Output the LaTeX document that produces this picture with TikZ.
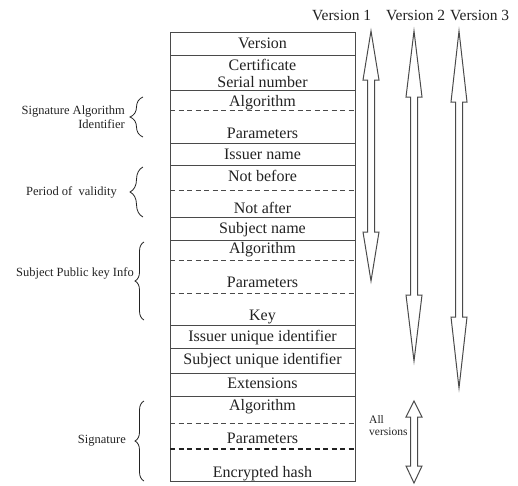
\documentclass[tikz,border=0pt]{standalone}
\usepackage{fontspec}
\setmainfont{Liberation Serif}
\usetikzlibrary{calc,decorations.pathreplacing}
\definecolor{Frame}{HTML}{4A4A4A}
\definecolor{Ink}{HTML}{222222}

% hollow double-headed arrow between two named points
\newcommand{\fatarrow}[4]{%
  \draw[fatarr] (#1) -- ($(#1)+(-8,#3)$) -- ($(#1)+(-3.5,#3)$) -- ($(#2)+(-3.5,-#4)$)
    -- ($(#2)+(-8,-#4)$) -- (#2) -- ($(#2)+(8,-#4)$) -- ($(#2)+(3.5,-#4)$)
    -- ($(#1)+(3.5,#3)$) -- ($(#1)+(8,#3)$) -- cycle;}

\begin{document}
\begin{tikzpicture}[x=1pt,y=-1pt,
  field/.style={rectangle,draw=Frame,line width=1pt,minimum width=185pt,inner sep=0pt},
  txt/.style={inner sep=0pt,anchor=base,text=Ink,font=\fontsize{16}{17}\selectfont},
  side/.style={inner sep=0pt,text=Ink,align=right,font=\fontsize{12.5}{14}\selectfont},
  sep/.style={draw=Frame,line width=0.9pt,dash pattern=on 5pt off 3.5pt},
  curly/.style={decorate,decoration={brace,amplitude=#1,mirror},draw=Ink,line width=0.8pt},
  curly/.default=10pt,
  fatarr/.style={draw=Frame,fill=white,line width=1pt,line join=miter},
  verlabel/.style={inner sep=0pt,anchor=base west,text=Ink,font=\fontsize{15.5}{17}\selectfont}]
  \useasboundingbox (0,0) rectangle (518,485);

  % certificate fields
  \node[field,minimum height=23pt] (ver) at (262.5,43.5) {};
  \node[field,minimum height=35pt] (cert) at (262.5,72.5) {};
  \node[field,minimum height=53pt] (sigalg) at (262.5,116.5) {};
  \node[field,minimum height=22pt] (issuer) at (262.5,154) {};
  \node[field,minimum height=52pt] (valid) at (262.5,191) {};
  \node[field,minimum height=23pt] (subj) at (262.5,228.5) {};
  \node[field,minimum height=85pt] (spki) at (262.5,282.5) {};
  \node[field,minimum height=23pt] (iuid) at (262.5,336.5) {};
  \node[field,minimum height=25pt] (suid) at (262.5,360.5) {};
  \node[field,minimum height=23pt] (ext) at (262.5,384.5) {};
  \node[field,minimum height=85pt] (sig) at (262.5,438.5) {};

  \node[txt] (vertxt) at (262.5,48) {Version};
  \node[txt,anchor=center,align=center] (certtxt) at (262.5,73) {Certificate\\Serial number};
  \node[txt] (sigalgA) at (262.5,106) {Algorithm};
  \node[txt] (sigalgP) at (262.5,138) {Parameters};
  \node[txt] (issuertxt) at (262.5,159) {Issuer name};
  \node[txt] (nbefore) at (262.5,181) {Not before};
  \node[txt] (nafter) at (262.5,213) {Not after};
  \node[txt] (subjtxt) at (262.5,233) {Subject name};
  \node[txt] (spkiA) at (262.5,253) {Algorithm};
  \node[txt] (spkiP) at (262.5,287) {Parameters};
  \node[txt] (spkiK) at (262.5,320) {Key};
  \node[txt] (iuidtxt) at (262.5,341) {Issuer unique identifier};
  \node[txt] (suidtxt) at (262.5,364) {Subject unique identifier};
  \node[txt] (exttxt) at (262.5,388) {Extensions};
  \node[txt] (sigA) at (262.5,410) {Algorithm};
  \node[txt] (sigP) at (262.5,443) {Parameters};
  \node[txt] (sigH) at (262.5,477) {Encrypted hash};

  % dashed sub-field separators
  \draw[sep] (170,110) -- (355,110);
  \draw[sep] (170,190) -- (355,190);
  \draw[sep] (170,260) -- (355,260);
  \draw[sep] (170,293) -- (355,293);
  \draw[sep] (170,423) -- (355,423);
  \draw[sep,line width=1.4pt,draw=Ink] (170,449) -- (355,449);

  % braces and labels on the left
  \draw[curly=13pt] (143,97) -- (143,137);
  \draw[curly=13pt] (143,167) -- (143,217);
  \draw[curly=9pt] (144,242) -- (144,320);
  \draw[curly=9pt] (144,401) -- (144,481);
  \node[side,anchor=east] (sigalglbl) at (125,117) {Signature Algorithm\\Identifier};
  \node[side,anchor=east] (validlbl) at (117,192) {Period of\ \ validity};
  \node[side,anchor=east] (spkilbl) at (134,273) {Subject Public key Info};
  \node[side,anchor=east] (siglbl) at (126,441) {Signature};

  % version ranges
  \node[verlabel] (v1lbl) at (312,20) {Version 1};
  \node[verlabel] (v2lbl) at (386,20) {Version 2};
  \node[verlabel] (v3lbl) at (450,20) {Version 3};
  \node[inner sep=0pt,anchor=north west,align=left,text=Ink,font=\fontsize{11.5}{12}\selectfont] (alllbl) at (369,415) {All\\versions};

  \coordinate (v1top) at (371,31);
  \coordinate (v1bot) at (371,281);
  \coordinate (v2top) at (414,31);
  \coordinate (v2bot) at (414,361);
  \coordinate (v3top) at (459,31);
  \coordinate (v3bot) at (459,388);
  \coordinate (alltop) at (414,401);
  \coordinate (allbot) at (414,483);
  \fatarrow{v1top}{v1bot}{49}{49}
  \fatarrow{v2top}{v2bot}{66}{66}
  \fatarrow{v3top}{v3bot}{71}{71}
  \fatarrow{alltop}{allbot}{16}{17}
\end{tikzpicture}
\end{document}
